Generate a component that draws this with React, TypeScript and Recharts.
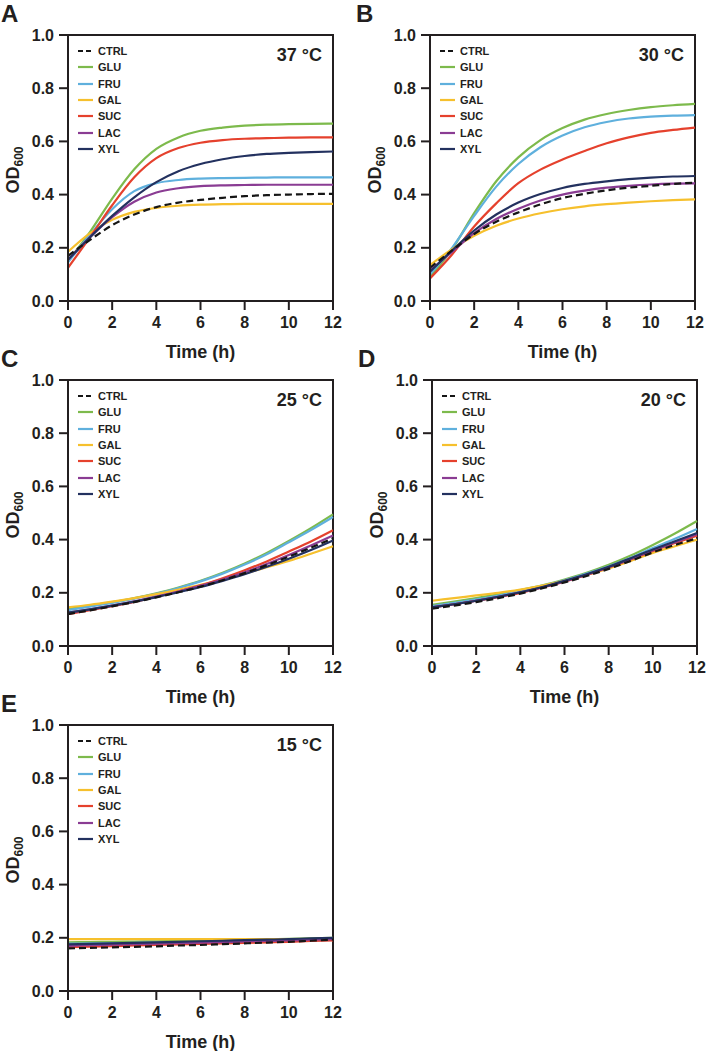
import React from "react";
import {
  LineChart, Line, XAxis, YAxis, Legend, ReferenceArea,
} from "recharts";

const hours = [0, 1, 2, 3, 4, 5, 6, 7, 8, 9, 10, 11, 12];
const yTicks = [0, 0.2, 0.4, 0.6, 0.8, 1.0];
const xTicks = [0, 2, 4, 6, 8, 10, 12];

// OD600 readings per temperature, one value per hour
const od37 = {
  CTRL: [0.17, 0.23, 0.285, 0.325, 0.353, 0.37, 0.38, 0.388, 0.394, 0.398, 0.4, 0.402, 0.403],
  GLU: [0.15, 0.26, 0.385, 0.495, 0.572, 0.615, 0.64, 0.652, 0.659, 0.663, 0.665, 0.666, 0.667],
  FRU: [0.145, 0.25, 0.345, 0.413, 0.443, 0.455, 0.46, 0.462, 0.463, 0.464, 0.465, 0.465, 0.465],
  GAL: [0.185, 0.255, 0.305, 0.335, 0.35, 0.358, 0.362, 0.364, 0.365, 0.365, 0.365, 0.365, 0.365],
  SUC: [0.125, 0.24, 0.36, 0.465, 0.537, 0.575, 0.595, 0.605, 0.61, 0.612, 0.614, 0.615, 0.615],
  LAC: [0.155, 0.24, 0.315, 0.373, 0.408, 0.424, 0.432, 0.435, 0.436, 0.437, 0.437, 0.437, 0.437],
  XYL: [0.155, 0.24, 0.32, 0.39, 0.447, 0.488, 0.515, 0.533, 0.545, 0.553, 0.557, 0.56, 0.562],
};
const od30 = {
  CTRL: [0.125, 0.19, 0.252, 0.298, 0.333, 0.363, 0.387, 0.403, 0.416, 0.426, 0.433, 0.44, 0.445],
  GLU: [0.09, 0.195, 0.33, 0.45, 0.54, 0.605, 0.65, 0.682, 0.703, 0.718, 0.729, 0.736, 0.741],
  FRU: [0.1, 0.2, 0.32, 0.43, 0.515, 0.578, 0.622, 0.653, 0.673, 0.686, 0.693, 0.697, 0.699],
  GAL: [0.135, 0.195, 0.245, 0.283, 0.31, 0.33, 0.345, 0.356, 0.364, 0.37, 0.375, 0.379, 0.382],
  SUC: [0.085, 0.175, 0.28, 0.367, 0.443, 0.494, 0.532, 0.564, 0.593, 0.615, 0.632, 0.643, 0.652],
  LAC: [0.115, 0.185, 0.255, 0.308, 0.347, 0.378, 0.4, 0.415, 0.426, 0.433, 0.438, 0.441, 0.442],
  XYL: [0.11, 0.19, 0.265, 0.325, 0.37, 0.402, 0.425, 0.44, 0.45, 0.458, 0.464, 0.468, 0.47],
};
const od25 = {
  CTRL: [0.12, 0.134, 0.149, 0.165, 0.183, 0.202, 0.223, 0.247, 0.274, 0.304, 0.336, 0.37, 0.405],
  GLU: [0.14, 0.152, 0.165, 0.18, 0.198, 0.22, 0.245, 0.275, 0.31, 0.35, 0.395, 0.443, 0.495],
  FRU: [0.135, 0.148, 0.162, 0.178, 0.196, 0.218, 0.243, 0.272, 0.306, 0.345, 0.39, 0.436, 0.485],
  GAL: [0.145, 0.155, 0.167, 0.18, 0.195, 0.212, 0.23, 0.25, 0.272, 0.296, 0.32, 0.347, 0.375],
  SUC: [0.12, 0.135, 0.15, 0.166, 0.185, 0.205, 0.228, 0.255, 0.285, 0.318, 0.355, 0.393, 0.435],
  LAC: [0.125, 0.138, 0.152, 0.168, 0.186, 0.205, 0.226, 0.25, 0.277, 0.308, 0.342, 0.378, 0.415],
  XYL: [0.125, 0.138, 0.152, 0.167, 0.184, 0.202, 0.222, 0.245, 0.27, 0.298, 0.328, 0.361, 0.397],
};
const od20 = {
  CTRL: [0.14, 0.152, 0.165, 0.18, 0.197, 0.217, 0.239, 0.263, 0.29, 0.32, 0.352, 0.38, 0.405],
  GLU: [0.155, 0.167, 0.18, 0.194, 0.21, 0.228, 0.25, 0.275, 0.305, 0.34, 0.38, 0.423, 0.47],
  FRU: [0.15, 0.162, 0.175, 0.19, 0.207, 0.226, 0.247, 0.272, 0.3, 0.332, 0.368, 0.403, 0.44],
  GAL: [0.17, 0.18, 0.19, 0.2, 0.212, 0.227, 0.245, 0.267, 0.292, 0.32, 0.35, 0.375, 0.4],
  SUC: [0.145, 0.157, 0.17, 0.184, 0.2, 0.22, 0.242, 0.267, 0.295, 0.325, 0.357, 0.387, 0.415],
  LAC: [0.145, 0.157, 0.17, 0.185, 0.202, 0.221, 0.243, 0.268, 0.296, 0.327, 0.36, 0.39, 0.42],
  XYL: [0.145, 0.157, 0.17, 0.185, 0.202, 0.222, 0.245, 0.27, 0.298, 0.33, 0.363, 0.394, 0.425],
};
const od15 = {
  CTRL: [0.16, 0.162, 0.164, 0.166, 0.168, 0.171, 0.173, 0.176, 0.179, 0.182, 0.185, 0.189, 0.193],
  GLU: [0.183, 0.184, 0.185, 0.186, 0.187, 0.188, 0.189, 0.19, 0.192, 0.194, 0.196, 0.198, 0.2],
  FRU: [0.178, 0.179, 0.18, 0.181, 0.182, 0.183, 0.184, 0.185, 0.186, 0.187, 0.189, 0.19, 0.192],
  GAL: [0.195, 0.195, 0.195, 0.195, 0.195, 0.195, 0.195, 0.195, 0.195, 0.195, 0.195, 0.194, 0.194],
  SUC: [0.165, 0.167, 0.169, 0.171, 0.173, 0.175, 0.177, 0.179, 0.181, 0.183, 0.185, 0.188, 0.19],
  LAC: [0.17, 0.172, 0.174, 0.176, 0.178, 0.18, 0.182, 0.184, 0.186, 0.188, 0.19, 0.193, 0.195],
  XYL: [0.175, 0.177, 0.179, 0.181, 0.183, 0.185, 0.187, 0.189, 0.191, 0.193, 0.195, 0.198, 0.2],
};

const series = [
  { key: "CTRL", color: "#151515", dash: "7 4" },
  { key: "GLU", color: "#7dba4c" },
  { key: "FRU", color: "#5fb0dd" },
  { key: "GAL", color: "#f6c02d" },
  { key: "SUC", color: "#e5412d" },
  { key: "LAC", color: "#8a3c93" },
  { key: "XYL", color: "#23315f" },
];
// draw CTRL last so the dashed line sits on top
const drawOrder = ["GLU", "FRU", "GAL", "SUC", "LAC", "XYL", "CTRL"];

const panels = [
  { letter: "A", temp: "37 °C", od: od37, x: 0, y: 0, w: 354 },
  { letter: "B", temp: "30 °C", od: od30, x: 362, y: 0, w: 345 },
  { letter: "C", temp: "25 °C", od: od25, x: 0, y: 345, w: 354 },
  { letter: "D", temp: "20 °C", od: od20, x: 364, y: 345, w: 343 },
  { letter: "E", temp: "15 °C", od: od15, x: 0, y: 690, w: 354 },
];

const INK = "#231f20";
const FONT = "'Liberation Sans', Arial, sans-serif";
const tickStyle = { fontSize: 16, fontWeight: 700, fill: INK, fontFamily: FONT };

function LegendBox() {
  return (
    <div style={{ fontFamily: FONT, fontSize: 11, fontWeight: 700, color: INK }}>
      {series.map((s) => (
        <div key={s.key} style={{ display: "flex", alignItems: "center", height: 16.3 }}>
          <svg width={15} height={4} style={{ marginRight: 5 }}>
            <line x1={0} y1={2} x2={15} y2={2} stroke={s.color} strokeWidth={2.2}
              strokeDasharray={s.dash ? "5 3" : undefined} />
          </svg>
          <span>{s.key}</span>
        </div>
      ))}
    </div>
  );
}

function odLabel(props: any) {
  const vb = props?.viewBox ?? { x: 18, y: 35, width: 50, height: 266 };
  const cx = vb.x + 1;
  const cy = vb.y + vb.height / 2 + 2;
  return (
    <text x={cx} y={cy} transform={`rotate(-90, ${cx}, ${cy})`} textAnchor="middle"
      fontFamily={FONT} fontWeight={700} fontSize={18} fill={INK}>
      OD<tspan fontSize={12} dy={4}>600</tspan>
    </text>
  );
}

function Panel({ p }: { p: typeof panels[number] }) {
  const data = hours.map((t, i) => {
    const row: any = { t };
    series.forEach((s) => { row[s.key] = (p.od as any)[s.key][i]; });
    return row;
  });
  const H = 364;
  return (
    <div style={{ position: "absolute", left: p.x, top: p.y, width: p.w, height: H }}>
      <LineChart width={p.w} height={H} data={data}
        margin={{ top: 35, right: p.w - 68 - 265, bottom: 5, left: 18 }}>
        <XAxis dataKey="t" type="number" domain={[0, 12]} ticks={xTicks} height={58}
          tick={tickStyle} tickSize={9} tickMargin={7}
          axisLine={{ stroke: INK, strokeWidth: 2 }} tickLine={{ stroke: INK, strokeWidth: 2 }}
          label={{ value: "Time (h)", position: "insideBottom", offset: 1.5, fontSize: 18, fontWeight: 700, fill: INK, fontFamily: FONT }} />
        <YAxis type="number" domain={[0, 1]} ticks={yTicks} width={50}
          tickFormatter={(v: number) => v.toFixed(1)}
          tick={tickStyle} tickSize={9} tickMargin={5}
          axisLine={{ stroke: INK, strokeWidth: 2 }} tickLine={{ stroke: INK, strokeWidth: 2 }}
          label={{ content: odLabel }} />
        <ReferenceArea x1={0} x2={12} y1={0} y2={1} fill="none" fillOpacity={0}
          stroke={INK} strokeWidth={2} />
        <Legend layout="vertical" align="center" verticalAlign="middle"
          wrapperStyle={{ left: 78, top: 43, width: "auto", height: "auto" }}
          content={() => <LegendBox />} />
        {drawOrder.map((k) => {
          const s = series.find((x) => x.key === k)!;
          return (
            <Line key={k} type="monotone" dataKey={k} name={k} stroke={s.color}
              strokeWidth={2.2} strokeDasharray={s.dash} dot={false}
              activeDot={false} isAnimationActive={false} />
          );
        })}
      </LineChart>
      <div style={{ position: "absolute", left: p.x === 0 ? 1 : -6, top: 0, fontFamily: FONT,
        fontSize: 24, fontWeight: 700, lineHeight: "27px", color: INK }}>{p.letter}</div>
      <div style={{ position: "absolute", right: p.w - 322, top: 46, fontFamily: FONT,
        fontSize: 18, fontWeight: 700, lineHeight: 1, color: INK, whiteSpace: "nowrap" }}>{p.temp}</div>
    </div>
  );
}

export default function App() {
  return (
    <div style={{ position: "absolute", left: 0, top: 0, width: 707, height: 1051,
      overflow: "hidden", background: "#fff" }}>
      {panels.map((p) => <Panel key={p.letter} p={p} />)}
    </div>
  );
}
